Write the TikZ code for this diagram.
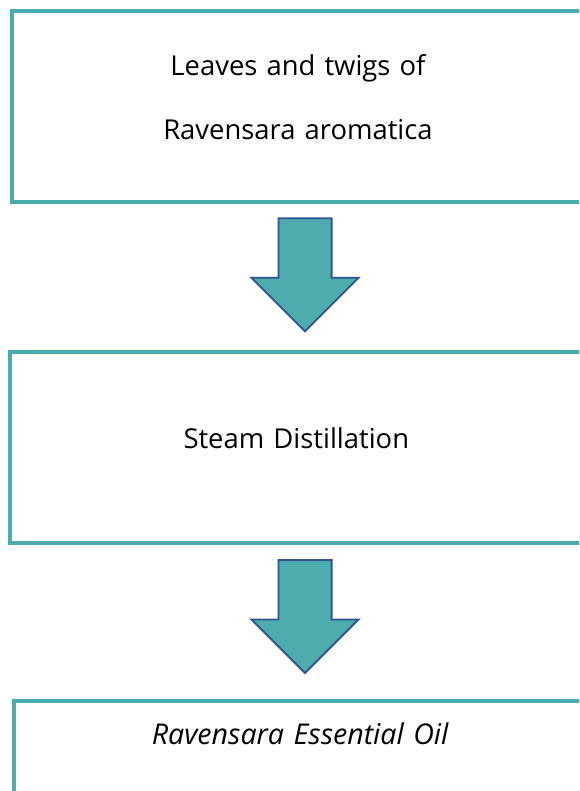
\documentclass[tikz,border=0pt]{standalone}
\usepackage{fontspec}
\setmainfont{Open Sans}
\usetikzlibrary{shapes.arrows}

\definecolor{boxline}{HTML}{4BACAD}
\definecolor{arrowfill}{HTML}{4EACAE}
\definecolor{arrowline}{HTML}{2F5496}

\begin{document}
\begin{tikzpicture}[x=1pt, y=-1pt,
  stepbox/.style={draw=boxline, line width=4pt, rectangle, anchor=north west, inner sep=0pt, outer sep=0pt,
    minimum width=572pt, text width=560pt, align=center, font=\fontsize{27.4}{32}\selectfont},
  flowarrow/.style={single arrow, draw=arrowline, fill=arrowfill, line width=1.8pt, rotate=-90, anchor=tail,
    minimum height=113pt, single arrow head extend=27pt, single arrow head indent=0pt,
    inner xsep=0pt, inner ysep=25.7pt, outer sep=0pt}]

\useasboundingbox (0, 0) rectangle (579, 791);
\clip (0, 0) rectangle (579, 791);

\node (leaves)  at (12, 11)      [stepbox, text height=65pt, text depth=126pt] {Leaves and twigs of\\[32pt]Ravensara aromatica};
\node (distill) at (10.3, 352.3) [stepbox, text height=96pt, text depth=94.4pt] {Steam Distillation};
\node (oil)     at (14.4, 701.3) [stepbox, text height=42.7pt, text depth=150pt, font=\fontsize{28.6}{32}\selectfont] {\textit{Ravensara Essential Oil}};

\node (arrow1) at (305, 218.3) [flowarrow] {};
\node (arrow2) at (305, 560)   [flowarrow] {};

\end{tikzpicture}
\end{document}
